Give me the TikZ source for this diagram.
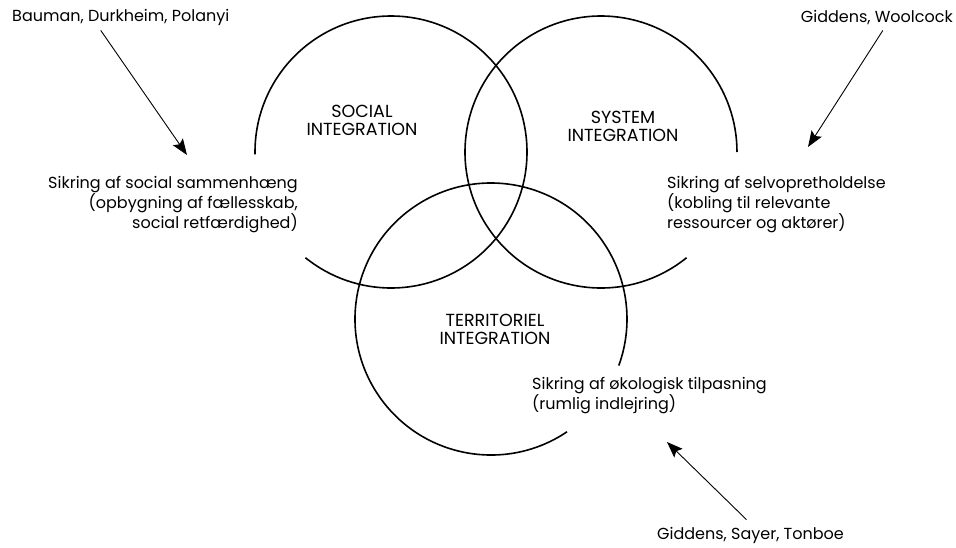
\documentclass[tikz,border=0pt]{standalone}
\usepackage{fontspec}
\setmainfont{Poppins}
\usetikzlibrary{arrows.meta,positioning}

\begin{document}
\begin{tikzpicture}[x=1pt, y=-1pt,
  every node/.style={inner sep=0pt, font=\fontsize{16}{18.5}\selectfont},
  ring/.style={line width=1.6pt},
  pil/.style={-{Stealth[length=16pt,width=12pt,inset=3pt]}, line width=0.9pt},
  felt/.style={align=center, font=\fontsize{17.5}{18}\selectfont}
]
\useasboundingbox (0,0) rectangle (956,547);

% ----------------------
% Circle centres
% ----------------------
\coordinate (csocial) at (391,152);
\coordinate (csystem) at (601,152);
\coordinate (cterr)   at (491,319);

% ----------------------
% Circles (each open where a text sits)
% ----------------------
\draw[ring] (csocial) ++(179:136) arc[start angle=179, end angle=489, radius=136];
\draw[ring] (csystem) ++(51:136)  arc[start angle=51,  end angle=360, radius=136];
\draw[ring] (cterr)   ++(56:136)  arc[start angle=56,  end angle=380, radius=136];

% ----------------------
% Circle labels
% ----------------------
\node[felt] (social) at (362,120) {SOCIAL\\INTEGRATION};
\node[felt] (system) at (623,126) {SYSTEM\\INTEGRATION};
\node[felt] (terr)   at (495,329) {TERRITORIEL\\INTEGRATION};

% ----------------------
% Explanatory blocks
% ----------------------
\node[align=right, anchor=north east] (sammen) at (298,176)
{Sikring af social sammenhæng\\
(opbygning af fællesskab,\\
social retfærdighed)};

\node[align=left, anchor=north west] (selvop) at (667,176)
{Sikring af selvopretholdelse\\
(kobling til relevante\\
ressourcer og aktører)};

\node[align=left, anchor=north west] (okolog) at (532,377)
{Sikring af økologisk tilpasning\\
(rumlig indlejring)};

% ----------------------
% Authors and arrows
% ----------------------
\node[anchor=west] (bauman) at (12,17) {Bauman, Durkheim, Polanyi};
\node[anchor=east] (woolcock) at (953,18) {Giddens, Woolcock};
\node[anchor=west] (tonboe) at (657,535) {Giddens, Sayer, Tonboe};

\coordinate (tipsocial) at (187,155);
\coordinate (tipsystem) at (808,147);
\coordinate (tipterr)   at (667,442);

\draw[pil] ([xshift=-20pt, yshift=-5pt]bauman.south) -- (tipsocial);
\draw[pil] ([xshift=6pt, yshift=-5pt]woolcock.south) -- (tipsystem);
\draw[pil] ([xshift=-4pt, yshift=7pt]tonboe.north) -- (tipterr);

\end{tikzpicture}
\end{document}
